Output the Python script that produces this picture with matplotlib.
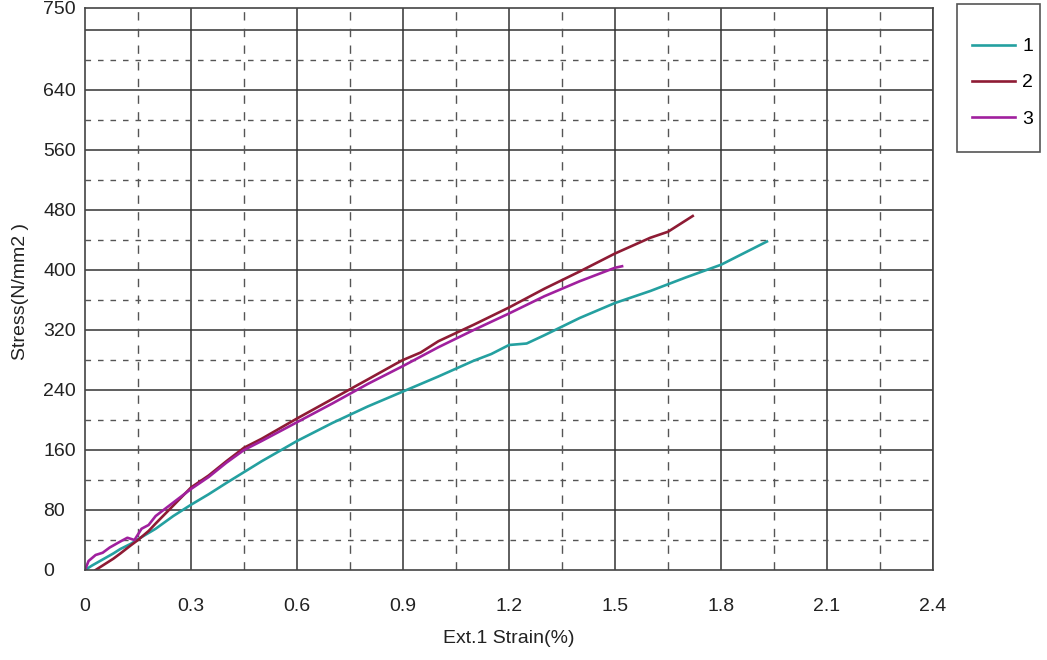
import numpy as np
import matplotlib.pyplot as plt
from matplotlib.patches import Rectangle

plt.rcParams['font.family'] = ['Liberation Sans Narrow', 'Liberation Sans', 'DejaVu Sans']

# === data ===
strain_1 = [0, 0.02, 0.05, 0.08, 0.1, 0.13, 0.15, 0.2, 0.25, 0.3, 0.35, 0.4, 0.5, 0.6, 0.7,
            0.8, 0.9, 1.0, 1.1, 1.15, 1.2, 1.25, 1.3, 1.4, 1.5, 1.6, 1.7, 1.8, 1.93]
stress_1 = [0, 6, 14, 22, 28, 35, 41, 55, 72, 87, 101, 116, 145, 172, 196,
            218, 238, 258, 279, 288, 300, 302, 313, 336, 356, 372, 390, 407, 438]

strain_2 = [0.03, 0.05, 0.08, 0.1, 0.13, 0.15, 0.18, 0.2, 0.25, 0.3, 0.35, 0.4, 0.45, 0.5, 0.6,
            0.7, 0.8, 0.88, 0.9, 0.95, 1.0, 1.1, 1.2, 1.3, 1.4, 1.5, 1.6, 1.65, 1.72]
stress_2 = [0, 6, 15, 22, 33, 40, 52, 62, 86, 110, 126, 145, 163, 175, 202,
            228, 254, 275, 280, 290, 305, 327, 350, 375, 398, 422, 443, 451, 472]

strain_3 = [0, 0.01, 0.03, 0.05, 0.07, 0.1, 0.12, 0.14, 0.16, 0.18, 0.2, 0.25, 0.3, 0.35, 0.4,
            0.45, 0.5, 0.6, 0.7, 0.8, 0.9, 1.0, 1.1, 1.2, 1.3, 1.4, 1.5, 1.52]
stress_3 = [0, 12, 20, 23, 30, 38, 43, 40, 55, 60, 72, 90, 108, 124, 143,
            160, 172, 197, 222, 248, 272, 297, 320, 342, 365, 385, 403, 405]

x_ticks = ['0', '0.3', '0.6', '0.9', '1.2', '1.5', '1.8', '2.1', '2.4']
y_ticks = [0, 80, 160, 240, 320, 400, 480, 560, 640, 750]

series = [
    ('1', strain_1, stress_1, '#24a0a0'),
    ('2', strain_2, stress_2, '#8e1b34'),
    ('3', strain_3, stress_3, '#a0209e'),
]

fig = plt.figure(figsize=(10.47, 6.6), dpi=100)
ax = fig.add_axes([85 / 1047, 1 - 570 / 660, (933 - 85) / 1047, (570 - 7.5) / 660])

for label, x, y, c in series:
    ax.plot(x, y, color=c, lw=1.9, label=label)

ax.set_xlim(0, 2.4)
ax.set_ylim(0, 750)
ax.set_xticks([float(t) for t in x_ticks])
ax.set_xticklabels(x_ticks)
ax.set_xticks(np.arange(0.15, 2.4, 0.3), minor=True)
ax.set_yticks(y_ticks)
ax.set_yticks(np.arange(40, 720, 80), minor=True)

# grid: solid majors (every 80 up to 720), dashed minors
for yv in np.arange(80, 721, 80):
    ax.axhline(yv, color='#333333', lw=1.1, zorder=0)
for xv in np.arange(0.3, 2.4, 0.3):
    ax.axvline(xv, color='#333333', lw=1.1, zorder=0)
ax.xaxis.grid(True, which='minor', color='#555555', lw=1.0, linestyle=(0, (6, 6)), zorder=0)
ax.yaxis.grid(True, which='minor', color='#555555', lw=1.0, linestyle=(0, (4, 5)), zorder=0)

ax.tick_params(which='both', length=0, labelsize=14, colors='#222222')
ax.tick_params(axis='x', pad=20)
ax.tick_params(axis='y', pad=30)
for t in ax.get_yticklabels():
    t.set_horizontalalignment('left')
for s in ax.spines.values():
    s.set_color('#444444')
    s.set_linewidth(1.2)

ax.set_xlabel('Ext.1 Strain(%)', fontsize=14, color='#222222', labelpad=11)
ax.set_ylabel('Stress(N/mm2 )', fontsize=14, color='#222222')
ax.yaxis.set_label_coords(-56 / 848, 0.495)

# legend box outside on the right
fig.patches.append(Rectangle((957 / 1047, 1 - 152 / 660), 83 / 1047, 148 / 660,
                             transform=fig.transFigure, fill=False,
                             edgecolor='#555555', lw=1.2))
fig.legend(loc='upper left', bbox_to_anchor=(962 / 1047, 1 - 28 / 660),
           frameon=False, fontsize=14, handlelength=2.2, handletextpad=0.4,
           labelspacing=0.95, borderpad=0)

plt.savefig('out.png', dpi=100)
